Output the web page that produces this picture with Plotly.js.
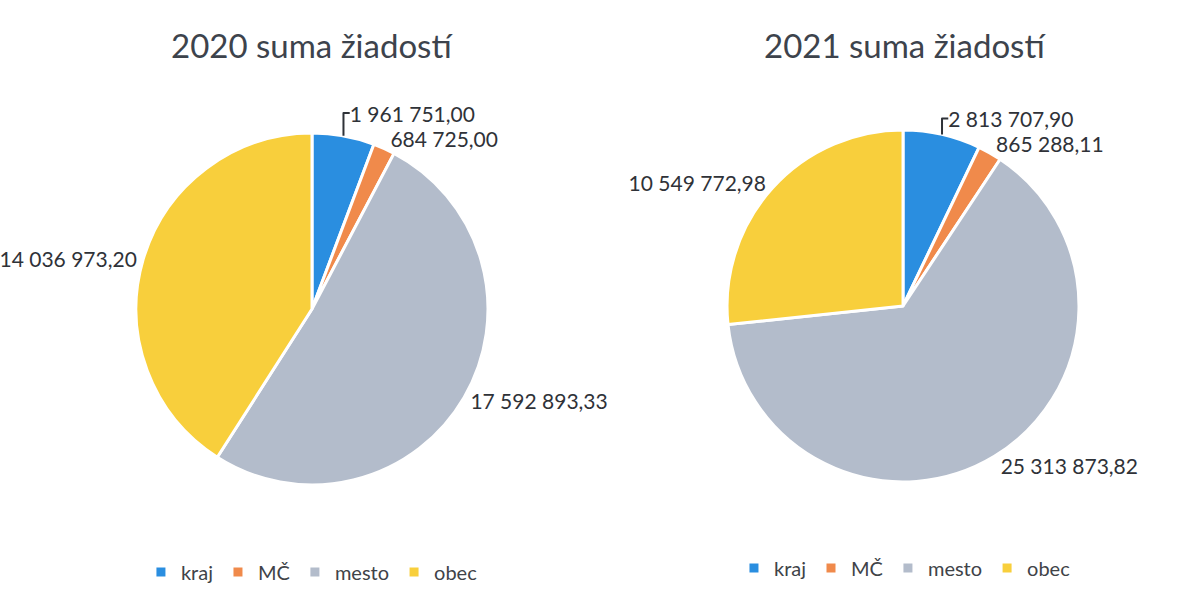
<!DOCTYPE html>
<html>
<head>
<meta charset="utf-8">
<script src="https://cdn.plot.ly/plotly-3.0.1.min.js"></script>
<style>
  html, body { margin: 0; padding: 0; background: #ffffff; }
  #chart { width: 1187px; height: 601px; }
</style>
</head>
<body>
<div id="chart"></div>
<script>
const categories = ['kraj', 'MČ', 'mesto', 'obec'];
const values2020 = [1961751.00, 684725.00, 17592893.33, 14036973.20];
const values2021 = [2813707.90, 865288.11, 25313873.82, 10549772.98];
const titles = ['2020 suma žiadostí', '2021 suma žiadostí'];

const colors = ['#2a8ee0', '#f08a4b', '#b3bccb', '#f8cf3c'];
const fontFamily = 'Lato, "Open Sans", sans-serif';
const textColor = '#2f3238';

function pieTrace(vals, domain, legendId, group) {
  return {
    type: 'pie',
    labels: categories,
    values: vals,
    sort: false,
    direction: 'clockwise',
    rotation: 0,
    domain: domain,
    marker: { colors: colors, line: { color: '#ffffff', width: 3 } },
    textposition: 'outside',
    texttemplate: '%{value:,.2f}',
    textfont: { family: fontFamily, size: 21, color: textColor },
    hoverinfo: 'none',
    legend: legendId,
    legendgroup: group,
    automargin: false
  };
}

const data = [
  pieTrace(values2020, { x: [0.1146, 0.4111], y: [0.1930, 0.7787] }, 'legend', 'y2020'),
  pieTrace(values2021, { x: [0.6125, 0.9090], y: [0.1980, 0.7837] }, 'legend2', 'y2021')
];

const legendBase = {
  orientation: 'h',
  xanchor: 'center',
  yanchor: 'middle',
  font: { family: fontFamily, size: 20, color: '#404348' },
  bgcolor: 'rgba(0,0,0,0)',
  itemwidth: 30,
  traceorder: 'normal'
};

const layout = {
  width: 1187,
  height: 601,
  margin: { l: 0, r: 0, t: 0, b: 0 },
  paper_bgcolor: '#ffffff',
  separators: ', ',
  showlegend: true,
  legend: Object.assign({}, legendBase, { x: 0.2628, y: 1 - 572 / 601 }),
  legend2: Object.assign({}, legendBase, { x: 0.7624, y: 1 - 568 / 601 }),
  annotations: [
    { text: titles[0], x: 0.2628, y: 1 - 45 / 601, xref: 'paper', yref: 'paper',
      xanchor: 'center', yanchor: 'middle', showarrow: false,
      font: { family: fontFamily, size: 33, color: '#3d434c' } },
    { text: titles[1], x: 0.7624, y: 1 - 45 / 601, xref: 'paper', yref: 'paper',
      xanchor: 'center', yanchor: 'middle', showarrow: false,
      font: { family: fontFamily, size: 33, color: '#3d434c' } }
  ]
};

Plotly.newPlot('chart', data, layout, { displayModeBar: false, staticPlot: true });
</script>
</body>
</html>
